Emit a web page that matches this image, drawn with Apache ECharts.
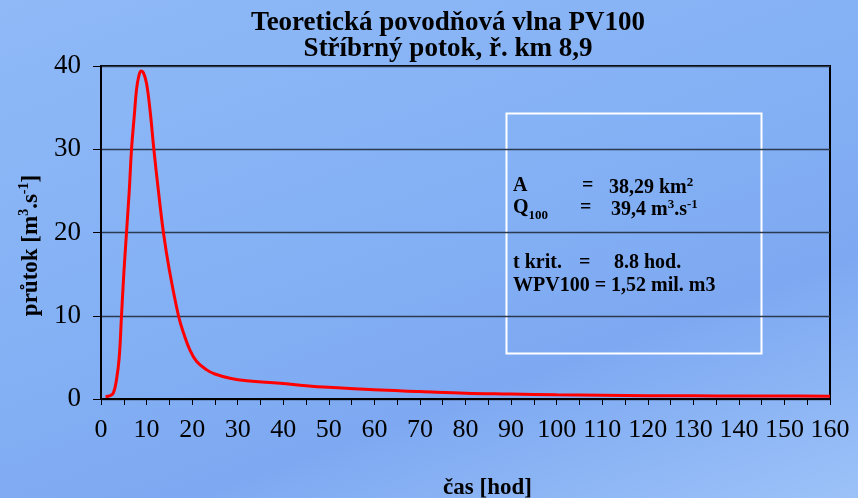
<!DOCTYPE html>
<html><head><meta charset="utf-8">
<script src="https://cdn.jsdelivr.net/npm/echarts@6/dist/echarts.min.js"></script>
<style>html,body{margin:0;padding:0;}#c{width:858px;height:498px;background:linear-gradient(160deg,#8fb9f7 0%,#85b2f5 40%,#7ea9f2 70%,#9cc2f8 100%);}</style>
</head><body><div id="c"></div>
<script>
const times = [1,2,2.7,3.4,4,4.5,5,5.6,6.2,6.7,7.3,7.8,8.3,8.8,9.3,10,10.8,11.6,12.6,13.7,15,17,18.2,19.5,21,23.2,25,28.3,32,39.3,45,50,60,70,80,90,100,110,120,130,140,150,160];
const flows = [0.3,0.4,0.7,2.3,5,10,15,20,25,30,34,37.2,38.8,39.4,39.2,37.9,34.5,30,25,20,15.5,10,7.8,5.9,4.5,3.5,3.0,2.5,2.2,1.9,1.6,1.4,1.1,0.9,0.7,0.6,0.5,0.45,0.4,0.38,0.36,0.35,0.34];
const titleLines = ['Teoretická povodňová vlna PV100','Stříbrný potok, ř. km 8,9'];

const chart = echarts.init(document.getElementById('c'));
const F = '"Liberation Serif","Times New Roman",serif';
const boxText = {fontFamily:F,fontWeight:'bold',fontSize:20,fill:'#000'};
function txt(x,y,rich,str){return {type:'text',left:x,top:y,style:Object.assign({},boxText,{text:str,rich:rich})};}
const rich = {
  n:{fontFamily:F,fontWeight:'bold',fontSize:20,lineHeight:22,verticalAlign:'bottom'},
  sup:{fontFamily:F,fontWeight:'bold',fontSize:13,lineHeight:22,verticalAlign:'top'},
  sub:{fontFamily:F,fontWeight:'bold',fontSize:13,lineHeight:22,verticalAlign:'bottom',padding:[0,0,-4,0]}
};
chart.setOption({
  backgroundColor:'transparent',
  animation:false,
  title:{text:titleLines.join('\n'),left:443,top:5,textAlign:'center',textStyle:{fontFamily:F,fontWeight:'bold',fontSize:27,lineHeight:26,color:'#000'}},
  grid:{left:101,right:28,top:66,bottom:99,outerBoundsMode:'none',containLabel:false,show:true,borderColor:'#000',borderWidth:2,backgroundColor:'transparent'},
  xAxis:{type:'value',min:0,max:160,interval:10,
    name:'čas [hod]',nameLocation:'middle',nameGap:78,
    nameTextStyle:{fontFamily:F,fontWeight:'bold',fontSize:23,color:'#000',padding:[0,0,0,44]},
    axisLine:{lineStyle:{color:'#000',width:2}},
    axisTick:{length:6,lineStyle:{color:'#000',width:1}},
    minorTick:{show:true,splitNumber:2,length:6,lineStyle:{color:'#000',width:1}},
    splitLine:{show:false},
    axisLabel:{fontFamily:F,fontSize:26,color:'#000',margin:18}},
  yAxis:{type:'value',min:0,max:40,interval:10,
    name:'{n|průtok [m}{sup|3}{n|.s}{sup|-1}{n|]}',nameLocation:'middle',nameGap:58,
    nameTextStyle:{color:'#000',padding:[0,26,0,0],rich:{n:{fontFamily:F,fontWeight:'bold',fontSize:23,lineHeight:26,verticalAlign:'bottom'},sup:{fontFamily:F,fontWeight:'bold',fontSize:14,lineHeight:26,verticalAlign:'top'}}},
    axisLine:{show:true,lineStyle:{color:'#000',width:2}},
    axisTick:{show:true,length:8,lineStyle:{color:'#000',width:1}},
    splitLine:{show:true,lineStyle:{color:'#2b3a4f',width:1.3}},
    axisLabel:{fontFamily:F,fontSize:27,color:'#000',margin:20}},
  series:[{type:'line',data:times.map((t,i)=>[t,flows[i]]),smooth:0.4,showSymbol:false,
    lineStyle:{color:'#ff0000',width:3}}],
  graphic:[
    {type:'rect',shape:{x:506.5,y:113.5,width:255,height:240},style:{fill:'none',stroke:'#fff',lineWidth:2}},
    txt(513,176,rich,'{n|A}'),
    txt(582,176,rich,'{n|=}'),
    txt(609,176,rich,'{n|38,29 km}{sup|2}'),
    txt(513,198,rich,'{n|Q}{sub|100}'),
    txt(580,198,rich,'{n|=}'),
    txt(611,198,rich,'{n|39,4 m}{sup|3}{n|.s}{sup|-1}'),
    txt(513,253,rich,'{n|t krit.}'),
    txt(579,253,rich,'{n|=}'),
    txt(614,253,rich,'{n|8.8 hod.}'),
    txt(513,276,rich,'{n|WPV100 = 1,52 mil. m3}')
  ]
});
</script></body></html>
